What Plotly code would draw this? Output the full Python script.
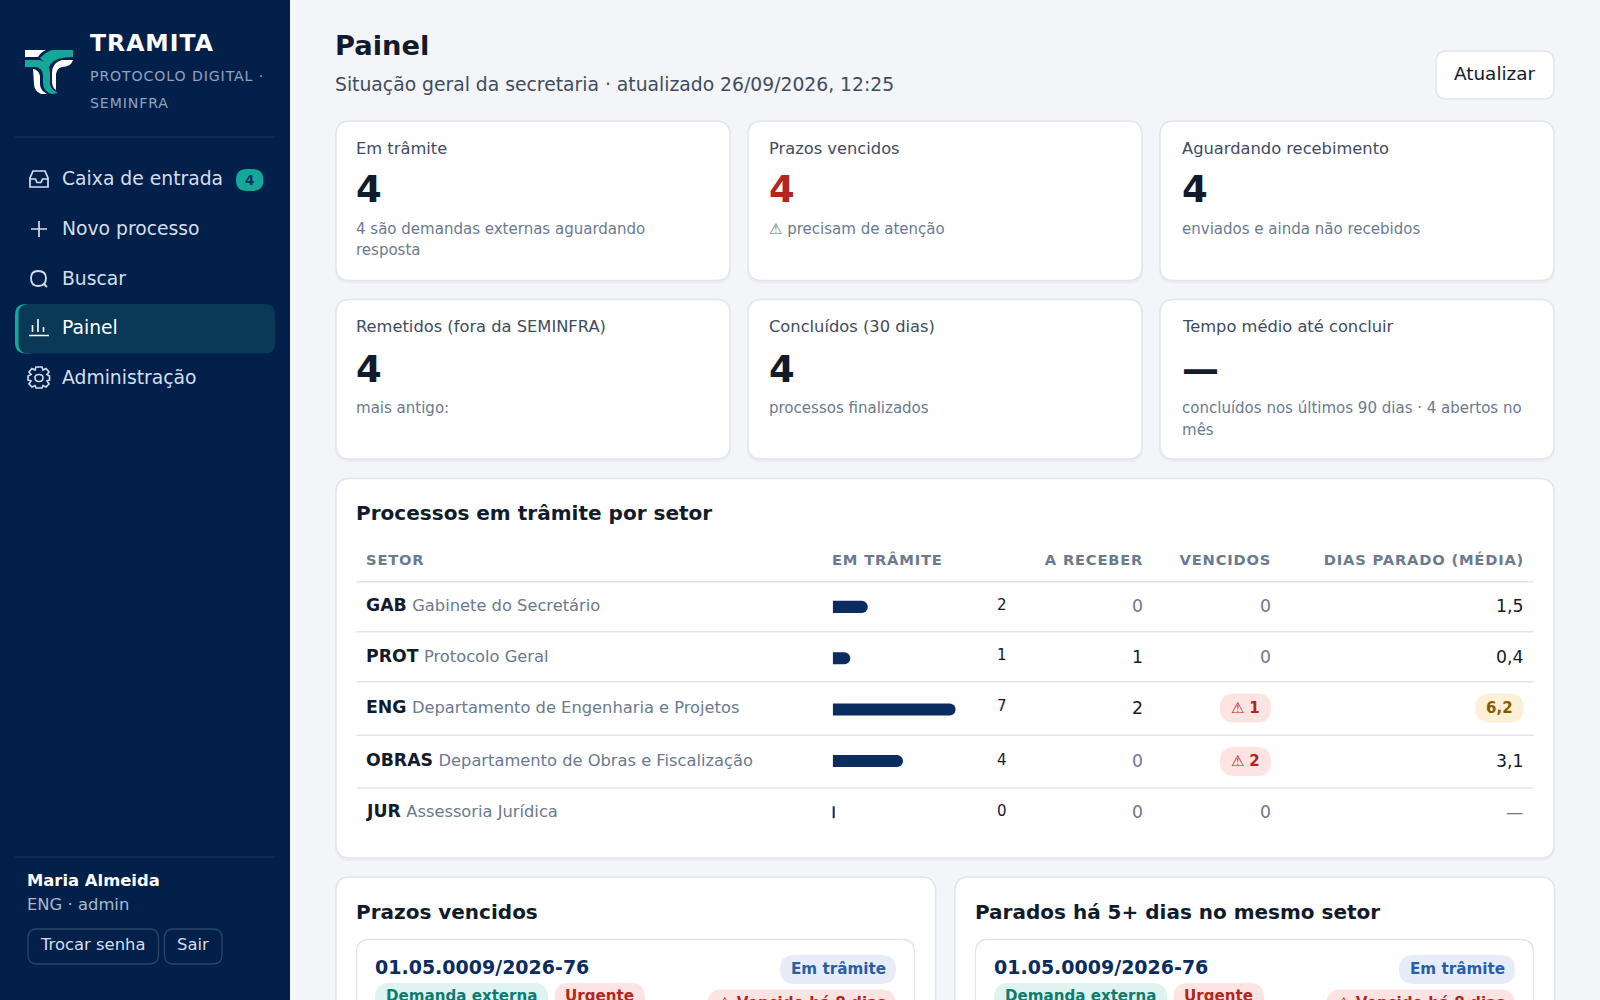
import re
import plotly.graph_objects as go

# chart + table values
setores = ["GAB", "PROT", "ENG", "OBRAS", "JUR"]
nomes = ["Gabinete do Secretário", "Protocolo Geral", "Departamento de Engenharia e Projetos",
         "Departamento de Obras e Fiscalização", "Assessoria Jurídica"]
em_tramite = [2, 1, 7, 4, 0]
a_receber = [0, 1, 2, 0, 0]
vencidos = [0, 0, 1, 2, 0]
dias_parado = ["1,5", "0,4", "6,2", "3,1", "—"]
colunas = ["SETOR", "EM TRÂMITE", "A RECEBER", "VENCIDOS", "DIAS PARADO (MÉDIA)"]

kpi_labels = ["Em trâmite", "Prazos vencidos", "Aguardando recebimento",
              "Remetidos (fora da SEMINFRA)", "Concluídos (30 dias)", "Tempo médio até concluir"]
kpi_values = ["4", "4", "4", "4", "4", "—"]
kpi_notes = [["4 são demandas externas aguardando", "resposta"], ["⚠ precisam de atenção"],
             ["enviados e ainda não recebidos"], ["mais antigo:"], ["processos finalizados"],
             ["concluídos nos últimos 90 dias · 4 abertos no", "mês"]]
menu = ["Caixa de entrada", "Novo processo", "Buscar", "Painel", "Administração"]

NAVY = "#02204a"
TEAL = "#14a89b"
INK = "#111b2b"
GRAY = "#6b7a8f"
LINE = "#e2e6ec"
RED = "#b3261e"
PINK = "#fde3e1"
FONT = "DejaVu Sans"

shapes = []
notes = []


def fx(x):
    return x / 1600


def fy(y):
    return 1 - y / 1000


def to_paper(d):
    # path written in page pixels -> paper coordinates
    out = []
    n = 0
    for tok in re.findall(r"[A-Za-z]|-?\d+\.?\d*", d):
        if tok.isalpha():
            out.append(tok)
        else:
            out.append(str(fx(float(tok)) if n % 2 == 0 else fy(float(tok))))
            n += 1
    return " ".join(out)


def path(d, fill=None, line=None, width=0):
    shapes.append(dict(type="path", xref="paper", yref="paper", path=to_paper(d), layer="below",
                       fillcolor=fill or "rgba(0,0,0,0)",
                       line=dict(color=line or "rgba(0,0,0,0)", width=width)))


def round_rect(x0, y0, x1, y1, r, fill=None, line=None, width=0):
    d = (f"M {x0+r} {y0} L {x1-r} {y0} Q {x1} {y0} {x1} {y0+r} L {x1} {y1-r} Q {x1} {y1} {x1-r} {y1} "
         f"L {x0+r} {y1} Q {x0} {y1} {x0} {y1-r} L {x0} {y0+r} Q {x0} {y0} {x0+r} {y0} Z")
    path(d, fill, line, width)


def text(s, x, y, size, color=INK, bold=False, anchor="left"):
    if bold:
        s = f"<b>{s}</b>"
    # annotations sit about 1.5px inside their anchor
    if anchor == "left":
        x -= 1.5
    elif anchor == "right":
        x += 1.5
    notes.append(dict(text=s, x=fx(x), y=fy(y), xref="paper", yref="paper", xanchor=anchor, yanchor="middle",
                      align=anchor, showarrow=False, borderpad=0, font=dict(family=FONT, size=size, color=color)))


def card(x0, y0, x1, y1, r=14):
    round_rect(x0 - 1, y0, x1 + 1, y1 + 3, r, fill="rgba(20,30,50,0.035)")
    round_rect(x0, y0, x1, y1, r, fill="#ffffff", line="#e1e5eb", width=1.4)


def pill(x0, y0, x1, y1, fill):
    round_rect(x0, y0, x1, y1, min(14.5, (y1 - y0) / 2), fill=fill)


# sidebar
shapes.append(dict(type="rect", xref="paper", yref="paper", x0=0, x1=fx(290), y0=0, y1=1, layer="below",
                   fillcolor=NAVY, line=dict(width=0)))
path("M 15 137 L 275 137", line="#1b3760", width=1)
path("M 15 857 L 275 857", line="#1b3760", width=1)

# logo
path("M 25 50 L 46 50 Q 41 52 38 57 L 25 57 Z", fill="#ffffff")
path("M 25 60 L 39 60 Q 50 62 50 74 L 50 84 Q 51 90 58 93 L 52 94 Q 43 92 43 82 L 43 76 Q 43 67 34 67 L 25 67 Z", fill=TEAL)
path("M 73 50 L 73 57 Q 60 57 54 61 Q 50 64 48 68 Q 45 62 40 58 Q 46 52 52 50 Z", fill=TEAL)
path("M 73 60 Q 71 67 62 67 Q 57 68 56 74 L 56 90 Q 52 87 52 82 L 52 72 Q 53 62 62 60 Z", fill="#ffffff")
path("M 33 69 Q 39 70 40 76 L 40 84 Q 40 90 47 94 L 41 94 Q 34 91 34 84 Z", fill="#ffffff")
text("TRAMITA", 90, 43.5, 23.5, "#ffffff", True)
text("PROTOCOLO DIGITAL ·", 90, 75.7, 14.1, "#8fa4c3")
text("SEMINFRA", 90, 102.5, 14.1, "#8fa4c3")

# menu
round_rect(15, 304, 40, 353.5, 11, fill=TEAL)
round_rect(18.5, 304, 275, 353.5, 10, fill="#0a3857")
menu_y = [178.5, 229, 278.5, 327.5, 377]
for i, m in enumerate(menu):
    text(m, 62.8, menu_y[i], 18.75, "#ffffff" if m == "Painel" else "#d4deec")
pill(236, 169, 263.5, 191, TEAL)
text("4", 249.7, 179.5, 13.5, "#0b3159", True, "center")

ICON = "#d4deec"
# inbox
path("M 30 187 L 30 178 L 33 171 L 45 171 L 48 178 L 48 187 Z", line=ICON, width=1.7)
path("M 30 179 L 35.5 179 L 37 182.5 L 41 182.5 L 42.5 179 L 48 179", line=ICON, width=1.7)
# plus
path("M 39 221 L 39 237 M 31 229 L 47 229", line=ICON, width=1.7)
# search
path("M 38 271 Q 46 271 46 278 Q 46 286 38 286 Q 31 286 31 278 Q 31 271 38 271 Z", line=ICON, width=1.8)
path("M 43.5 283.5 L 47 287", line=ICON, width=1.8)
# bars
path("M 29 335.5 L 49 335.5 M 32.5 332 L 32.5 325 M 38 332 L 38 319 M 43.5 332 L 43.5 327", line="#ffffff", width=1.6)
# gear
path("M 36 367 L 42 367 L 43 370 L 46 368.5 L 49 372 L 47 374.5 L 49.5 376 L 49.5 380 L 47 381 L 49 384 L 46 387 "
     "L 43 385.5 L 42 388 L 36 388 L 35 385.5 L 32 387 L 29 384 L 31 381 L 28 380 L 28 376 L 31 374.5 L 29 372 L 32 368.5 L 35 370 Z",
     line=ICON, width=1.6)
path("M 39 374.5 Q 43 374.5 43 377.5 Q 43 381.5 39 381.5 Q 35 381.5 35 377.5 Q 35 374.5 39 374.5 Z", line=ICON, width=1.6)

# user block
text("Maria Almeida", 27.5, 880.5, 16.4, "#ffffff", True)
text("ENG · admin", 27.5, 904, 16.4, "#a8b8d0")
round_rect(28, 929, 158.5, 964, 9, line="#2c4568", width=1.3)
round_rect(164.5, 929, 222, 964, 9, line="#2c4568", width=1.3)
text("Trocar senha", 92.5, 944, 16.4, "#d4deec", False, "center")
text("Sair", 193, 944, 16.4, "#d4deec", False, "center")

# header
text("Painel", 335.5, 45, 27.3, INK, True)
text("Situação geral da secretaria · atualizado 26/09/2026, 12:25", 335.5, 84.5, 18.75, "#3f4c5f")
round_rect(1436, 51, 1554, 99, 11, fill="#ffffff", line="#e1e5eb", width=1.4)
text("Atualizar", 1495, 73.5, 18.4, INK, False, "center")

# KPI cards
kpi_x = [336, 748, 1160]
kpi_y = [121, 299.5]
kpi_num_dy = [68.5, 69.5]
kpi_note_dy = [107.5, 108]
kpi_text_x = [356.7, 769.7, 1182.2]
for i in range(6):
    x0 = kpi_x[i % 3]
    y0 = kpi_y[i // 3]
    tx = kpi_text_x[i % 3]
    card(x0, y0, x0 + 394, y0 + 159.5)
    text(kpi_labels[i], tx, y0 + 27, 16.3, "#3f4c5f")
    text(kpi_values[i], tx, y0 + kpi_num_dy[i // 3], 37, RED if i == 1 else INK, True)
    for j, line in enumerate(kpi_notes[i]):
        text(line, tx, y0 + kpi_note_dy[i // 3] + j * 22, 15.03, GRAY)

# table card
card(336, 478.5, 1554, 858)
text("Processos em trâmite por setor", 356.5, 513, 20.05, INK, True)
text(colunas[0], 366, 559.5, 14.7, GRAY, True)
text(colunas[1], 832.8, 559.5, 14.7, GRAY, True)
text(colunas[2], 1143, 559.5, 14.7, GRAY, True, "right")
text(colunas[3], 1270.5, 559.5, 14.7, GRAY, True, "right")
text(colunas[4], 1523.5, 559.5, 14.7, GRAY, True, "right")
for yl in [581.7, 631.7, 681.7, 735.3, 788]:
    path(f"M 356.5 {yl} L 1533.7 {yl}", line="#e2e6ec", width=1.4)

row_y = [606, 656.3, 707.5, 761, 812]
for i, s in enumerate(setores):
    y = row_y[i]
    text(f"<b>{s}</b> <span style='color:{GRAY};font-size:16.3px'>{nomes[i]}</span>", 366.3, y - 0.8, 17.3)
    text(str(em_tramite[i]), 1006.5, y - 1.4, 15, INK, False, "right")
    text(str(a_receber[i]), 1142.5, y + 0.3, 17.3, INK if a_receber[i] else GRAY, False, "right")
    if vencidos[i]:
        pill(1220, y - 14, 1271, y + 15, PINK)
        text(f"⚠ <b>{vencidos[i]}</b>", 1245.4, y + 0.3, 15, RED, False, "center")
    else:
        text(str(vencidos[i]), 1270.2, y + 0.3, 17.3, GRAY, False, "right")
    if dias_parado[i] == "6,2":
        pill(1475.5, y - 14, 1523.5, y + 15, "#fdf0d6")
        text(dias_parado[i], 1499.4, y + 0.3, 15, "#8a5a00", True, "center")
    else:
        text(dias_parado[i], 1522, y + 0.3, 17.3, GRAY if dias_parado[i] == "—" else INK, False, "right")

# bottom cards
for dx, titulo in [(0, "Prazos vencidos"), (619, "Parados há 5+ dias no mesmo setor")]:
    card(336 + dx, 877, 935.5 + dx, 1040)
    text(titulo, 356.5 + dx, 912, 20, INK, True)
    round_rect(356.5 + dx, 939.5, 914.5 + dx, 1040, 13, fill="#ffffff", line="#dfe3ea", width=1.3)
    text("01.05.0009/2026-76", 375 + dx, 967, 19, "#0a2c5e", True)
    pill(780 + dx, 955, 896 + dx, 984, "#e6edf8")
    text("Em trâmite", 838 + dx, 969, 15.2, "#2a5ca8", True, "center")
    pill(375 + dx, 983, 548 + dx, 1012, "#dff3f0")
    text("Demanda externa", 461.5 + dx, 996, 15.1, "#0f7a6e", True, "center")
    pill(554.5 + dx, 983, 645 + dx, 1012, PINK)
    text("Urgente", 599.8 + dx, 996, 15.1, RED, True, "center")
    pill(707.5 + dx, 989.5, 895.5 + dx, 1018, PINK)
    text("⚠ Vencido há 8 dias", 801.5 + dx, 1003, 15.1, RED, True, "center")

fig = go.Figure(go.Bar(
    x=em_tramite, y=setores, orientation="h",
    marker=dict(color="#0a2c5e", cornerradius=6, line=dict(color="#0a2c5e", width=[0, 0, 0, 0, 4])),
    hoverinfo="skip",
))
fig.update_layout(
    width=1600, height=1000, margin=dict(l=0, r=0, t=0, b=0),
    paper_bgcolor="#f3f5f9", plot_bgcolor="rgba(0,0,0,0)",
    shapes=shapes, annotations=notes, showlegend=False, bargap=0.766,
    font=dict(family=FONT),
    xaxis=dict(domain=[fx(832.7), fx(955.7)], range=[0, 7], visible=False, fixedrange=True),
    yaxis=dict(domain=[fy(838), fy(581.2)], autorange="reversed", visible=False, fixedrange=True,
               type="category"),
)

# letter-spacing on the spaced capitals, plotly has no attribute for it
spaced = """
document.body.style.margin = '0';
document.body.style.overflow = 'hidden';
var ls = {'TRAMITA': '1px', 'PROTOCOLO DIGITAL ·': '0.9px', 'SEMINFRA': '0.9px', 'SETOR': '0.8px',
          'EM TRÂMITE': '0.8px', 'A RECEBER': '0.8px', 'VENCIDOS': '0.8px', 'DIAS PARADO (MÉDIA)': '0.8px'};
document.querySelectorAll('text.annotation-text').forEach(function (t) {
    if (ls[t.textContent]) { t.style.letterSpacing = ls[t.textContent]; }
});
"""
fig.write_html("out.html", post_script=spaced, config={"displayModeBar": False})
